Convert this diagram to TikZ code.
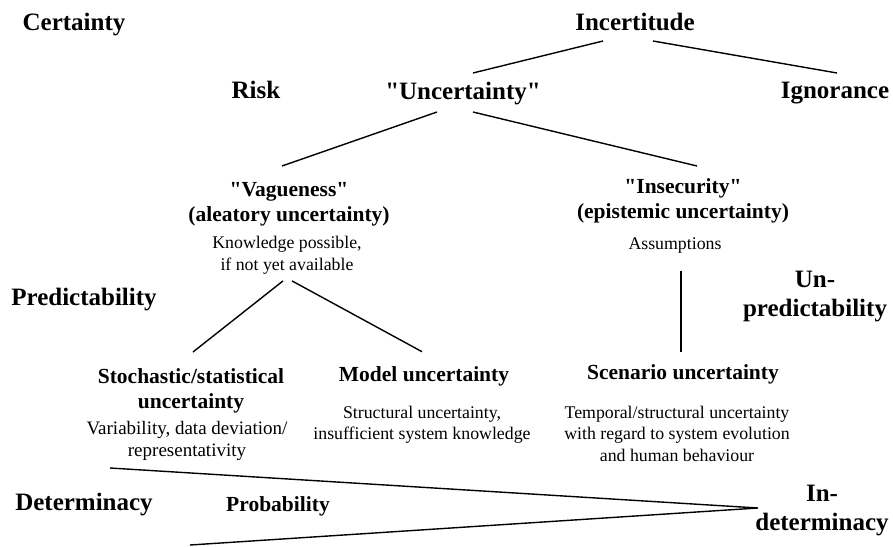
\documentclass[tikz,border=0pt]{standalone}
\usepackage{fontspec}
\setmainfont{Liberation Serif}[Ligatures=TeXOff]
\usetikzlibrary{positioning}
\newcommand{\termfont}{\fontsize{12.5}{14.5}\selectfont\bfseries}
\newcommand{\headfont}{\fontsize{10.75}{12.5}\selectfont\bfseries}
\newcommand{\notefont}{\fontsize{8.9}{10.9}\selectfont}
\tikzset{
  term/.style={inner sep=0pt, align=center, font=\termfont},
  head/.style={inner sep=0pt, align=center, font=\headfont},
  note/.style={inner sep=0pt, align=center, font=\notefont},
  link/.style={line width=0.7pt}
}
\begin{document}
\begin{tikzpicture}[x=0.5pt, y=-0.5pt]
  \useasboundingbox (0,0) rectangle (893,546);
  \node[term, anchor=base] (cert) at (74,30) {Certainty};
  \node[term, anchor=base] (incert) at (635,30) {Incertitude};
  \node[term, anchor=base] (risk) at (256,98) {Risk};
  \node[term, anchor=base] (uncert) at (463,99) {"Uncertainty"};
  \node[term, anchor=base] (ignor) at (835,98) {Ignorance};

  \node[head, anchor=north] (vague) at (289,182) {"Vagueness"\\(aleatory uncertainty)};
  \node[note, below=4.8pt of vague, xshift=-1pt] (vaguedesc) {Knowledge possible,\\if not yet available};
  \node[head, anchor=north] (insec) at (683,178) {"Insecurity"\\(epistemic uncertainty)};
  \node[note, below=7.2pt of insec, xshift=-4pt] (insecdesc) {Assumptions};

  \node[term, anchor=base] (predict) at (84,305) {Predictability};
  \node[term, anchor=north] (unpredict) at (815,271) {Un-\\predictability};

  \node[head, anchor=north] (stoch) at (191,368) {Stochastic/statistical\\uncertainty};
  \node[note, below=3.8pt of stoch, xshift=-2pt, font=\fontsize{9.5}{11}\selectfont] (stochdesc) {Variability, data deviation/\\representativity};
  \node[head, anchor=base] (model) at (424,381) {Model uncertainty};
  \node[note, below=9.7pt of model, xshift=-1pt] (modeldesc) {Structural uncertainty,\\insufficient system knowledge};
  \node[head, anchor=base] (scen) at (683,379) {Scenario uncertainty};
  \node[note, below=10.7pt of scen, xshift=-3pt] (scendesc) {Temporal/structural uncertainty\\with regard to system evolution\\and human behaviour};

  \node[term, anchor=base] (determ) at (84,510) {Determinacy};
  \node[head, anchor=base] (prob) at (278,511) {Probability};
  \node[term, anchor=north] (indeterm) at (822,485) {In-\\determinacy};

  \coordinate (wedgetop) at (110,468);
  \coordinate (wedgebot) at (190,545);
  \coordinate (apex) at (758,508);

  \draw[link] ([shift={(-32,11)}]incert.base) -- ([shift={(10,-26)}]uncert.base);
  \draw[link] ([shift={(18,11)}]incert.base) -- ([shift={(2,-25)}]ignor.base);
  \draw[link] ([shift={(-26,13)}]uncert.base) -- ([shift={(-7,-16)}]vague.north);
  \draw[link] ([shift={(10,13)}]uncert.base) -- ([shift={(14,-12)}]insec.north);
  \draw[link] ([shift={(-4,6)}]vaguedesc.south) -- ([shift={(2,-16)}]stoch.north);
  \draw[link] ([shift={(5,6)}]vaguedesc.south) -- ([shift={(-2,-14)}]model.north);
  \draw[link] ([shift={(6,17)}]insecdesc.south) -- ([shift={(-2,-12)}]scen.north);
  \draw[link] (wedgetop) -- (apex) -- (wedgebot);
\end{tikzpicture}
\end{document}
